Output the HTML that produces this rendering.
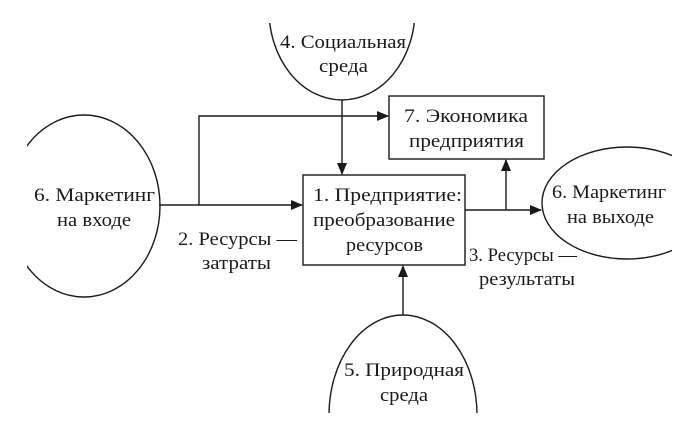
<!DOCTYPE html>
<html><head><meta charset="utf-8"><style>
html,body{margin:0;padding:0;background:#fff;width:674px;height:432px;overflow:hidden;}
svg{display:block;}
text{font-family:"Liberation Serif",serif;font-size:19px;fill:#1a1a1a;}
</style></head><body>
<svg width="674" height="432" viewBox="0 0 674 432" xmlns="http://www.w3.org/2000/svg">
<defs>
<marker id="a" markerWidth="12" markerHeight="10" refX="11" refY="5" orient="auto" markerUnits="userSpaceOnUse">
<path d="M0,0 L12,5 L0,10 Z" fill="#1a1a1a"/>
</marker>
<clipPath id="cl"><rect x="27" y="0" width="200" height="432"/></clipPath>
<clipPath id="ct"><rect x="0" y="23" width="674" height="432"/></clipPath>
<clipPath id="cb"><rect x="0" y="0" width="674" height="413"/></clipPath>
<clipPath id="cr"><rect x="0" y="0" width="672" height="432"/></clipPath>
</defs>
<g fill="none" stroke="#1a1a1a" stroke-width="1.4">
<ellipse cx="84" cy="206" rx="76" ry="91" clip-path="url(#cl)"/>
<ellipse cx="342" cy="10" rx="73" ry="90" clip-path="url(#ct)"/>
<ellipse cx="403" cy="415" rx="74" ry="100" clip-path="url(#cb)"/>
<ellipse cx="627" cy="203" rx="85" ry="56" clip-path="url(#cr)"/>
<rect x="389" y="96" width="155" height="63"/>
<rect x="303" y="175" width="162" height="90"/>
<line x1="159" y1="205" x2="302" y2="205" marker-end="url(#a)"/>
<polyline points="199,205 199,116 388,116" marker-end="url(#a)"/>
<line x1="342" y1="100" x2="342" y2="174" marker-end="url(#a)"/>
<line x1="465" y1="210" x2="541" y2="210" marker-end="url(#a)"/>
<line x1="506" y1="210" x2="506" y2="160" marker-end="url(#a)"/>
<line x1="403" y1="315" x2="403" y2="266" marker-end="url(#a)"/>
</g>
<text x="280" y="48" textLength="126" lengthAdjust="spacingAndGlyphs">4. Социальная</text>
<text x="319" y="72" textLength="49" lengthAdjust="spacingAndGlyphs">среда</text>
<text x="404" y="122" textLength="124" lengthAdjust="spacingAndGlyphs">7. Экономика</text>
<text x="409" y="147" textLength="115" lengthAdjust="spacingAndGlyphs">предприятия</text>
<text x="313" y="201" textLength="149" lengthAdjust="spacingAndGlyphs">1. Предприятие:</text>
<text x="313" y="226" textLength="142" lengthAdjust="spacingAndGlyphs">преобразование</text>
<text x="346" y="251" textLength="77" lengthAdjust="spacingAndGlyphs">ресурсов</text>
<text x="34" y="201" textLength="121" lengthAdjust="spacingAndGlyphs">6. Маркетинг</text>
<text x="57" y="226" textLength="74" lengthAdjust="spacingAndGlyphs">на входе</text>
<text x="178" y="245" textLength="119" lengthAdjust="spacingAndGlyphs">2. Ресурсы —</text>
<text x="202" y="269" textLength="69" lengthAdjust="spacingAndGlyphs">затраты</text>
<text x="552" y="198" textLength="114" lengthAdjust="spacingAndGlyphs">6. Маркетинг</text>
<text x="567" y="223" textLength="87" lengthAdjust="spacingAndGlyphs">на выходе</text>
<text x="469" y="261" textLength="108" lengthAdjust="spacingAndGlyphs">3. Ресурсы —</text>
<text x="479" y="285" textLength="96" lengthAdjust="spacingAndGlyphs">результаты</text>
<text x="344" y="376" textLength="120" lengthAdjust="spacingAndGlyphs">5. Природная</text>
<text x="380" y="401" textLength="48" lengthAdjust="spacingAndGlyphs">среда</text>
</svg>
</body></html>
